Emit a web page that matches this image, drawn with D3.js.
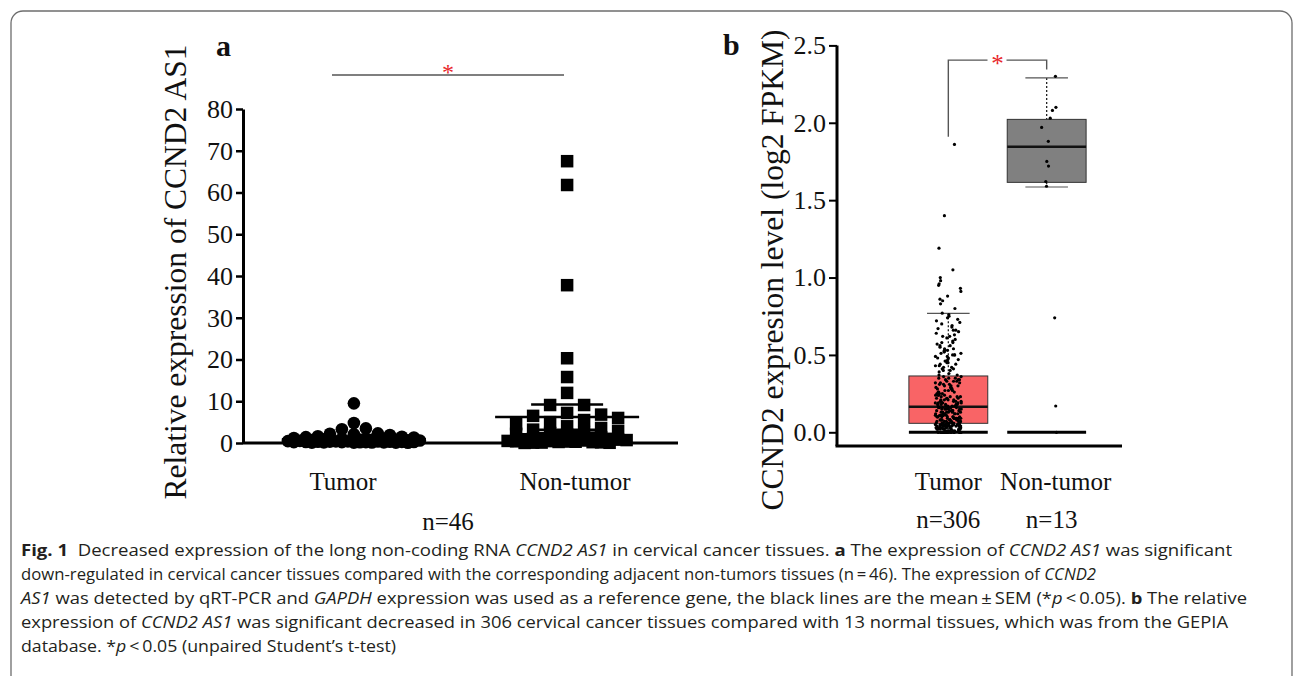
<!DOCTYPE html>
<html>
<head>
<meta charset="utf-8">
<script src="https://cdn.jsdelivr.net/npm/d3@7"></script>
<style>
    body {margin:0; background:#fff}
    svg {display:block}
    .serif {font-family:"Liberation Serif", "DejaVu Serif", serif; fill:#111}
    .cap {font-family:"Open Sans", "Noto Sans", sans-serif; font-size:16.5px; fill:#231f20; white-space:pre}
</style>
</head>
<body>
<svg id="fig" width="1293" height="676"></svg>
<script>
// ---------- data ----------
const groups= ["Tumor", "Non-tumor"]

// panel a: qRT-PCR, n=46 per group
const a_ticks= [0, 10, 20, 30, 40, 50, 60, 70, 80]
const a_tumor= [
    9.5, 4.8, 3.5, 3.3, 2.3, 2.2, 2.1, 1.9, 1.6, 1.5, 1.4, 1.3, 1.2, 1.1, 1.0, 0.95,
    0.9, 0.85, 0.8, 0.75, 0.7, 0.65, 0.6, 0.55, 0.5, 0.45, 0.4, 0.38, 0.35, 0.32,
    0.3, 0.3, 0.28, 0.25, 0.25, 0.22, 0.2, 0.2, 0.18, 0.15, 0.15, 0.12, 0.1, 0.1, 0.08, 0.05,
]
const a_normal= [
    67.5, 61.8, 37.8, 20.3, 15.8, 12.0, 9.1, 9.1, 7.2, 6.8, 6.5, 6.0, 5.5, 5.0, 4.5, 4.0,
    3.6, 3.2, 2.9, 2.6, 2.4, 2.2, 2.0, 1.8, 1.6, 1.4, 1.3, 1.2, 1.1, 1.0, 0.9, 0.8,
    0.7, 0.6, 0.5, 0.45, 0.4, 0.35, 0.3, 0.25, 0.2, 0.15, 0.1, 0.08, 0.05, 0.02,
]
const a_mean= [0.9, 6.2]
const a_sem= [0.3, 3.0]
const a_count= "n=46"

// panel b: GEPIA, log2 FPKM
const b_ticks= [0, 0.5, 1.0, 1.5, 2.0, 2.5]
const b_counts= ["n=306", "n=13"]
const b_q1= [0.058, 1.615]
const b_median= [0.165, 1.845]
const b_q3= [0.364, 2.022]
const b_lower= [0.0, 1.585]
const b_upper= [0.769, 2.29]
const b_tumor= [
    1.86, 1.40, 1.19, 1.05, 1.00, 0.98, 0.96, 0.95, 0.93, 0.91, 0.88, 0.86, 0.85, 0.83, 0.80,
    0.77, 0.76, 0.75, 0.74, 0.73, 0.72, 0.71, 0.70, 0.69, 0.68,
    0.67, 0.66, 0.66, 0.65, 0.64, 0.63, 0.62, 0.62, 0.61, 0.60,
    0.59, 0.58, 0.58, 0.57, 0.56, 0.56, 0.55, 0.54, 0.54, 0.53,
    0.53, 0.52, 0.52, 0.51, 0.51, 0.50, 0.50, 0.50, 0.49, 0.49,
    0.48, 0.48, 0.47, 0.47, 0.46, 0.46, 0.45, 0.45, 0.44, 0.44, 0.43,
    0.43, 0.42, 0.42, 0.41, 0.41, 0.40, 0.40, 0.39, 0.38, 0.37, 0.37,
    0.36, 0.36, 0.35, 0.35, 0.35, 0.34, 0.34, 0.34, 0.33, 0.33,
    0.33, 0.32, 0.32, 0.32, 0.31, 0.31, 0.31, 0.30, 0.30, 0.30,
    0.29, 0.29, 0.29, 0.28, 0.28, 0.28, 0.27, 0.27, 0.27, 0.26,
    0.26, 0.26, 0.25, 0.25, 0.25, 0.25, 0.24, 0.24, 0.24, 0.24,
    0.23, 0.23, 0.23, 0.23, 0.22, 0.22, 0.22, 0.22, 0.21, 0.21,
    0.21, 0.21, 0.20, 0.20, 0.20, 0.20, 0.20, 0.19, 0.19, 0.19,
    0.19, 0.19, 0.18, 0.18, 0.18, 0.18, 0.18, 0.17, 0.17, 0.17,
    0.17, 0.17, 0.17, 0.16, 0.16, 0.16,
    0.16, 0.16, 0.16, 0.15, 0.15, 0.15, 0.15, 0.15, 0.15, 0.14,
    0.14, 0.14, 0.14, 0.14, 0.14, 0.13, 0.13, 0.13, 0.13, 0.13,
    0.13, 0.12, 0.12, 0.12, 0.12, 0.12, 0.12, 0.12, 0.11, 0.11,
    0.11, 0.11, 0.11, 0.11, 0.11, 0.10, 0.10, 0.10, 0.10, 0.10,
    0.10, 0.10, 0.10, 0.09, 0.09, 0.09, 0.09, 0.09, 0.09, 0.09,
    0.09, 0.08, 0.08, 0.08, 0.08, 0.08, 0.08, 0.08, 0.08, 0.07,
    0.07, 0.07, 0.07, 0.07, 0.07, 0.07, 0.07, 0.06, 0.06, 0.06,
    0.06, 0.06, 0.06, 0.06, 0.06, 0.06, 0.06,
    0.05, 0.05, 0.05, 0.05, 0.05, 0.05, 0.05, 0.05, 0.05, 0.05, 0.05, 0.05, 0.05, 0.05, 0.05,
    0.04, 0.04, 0.04, 0.04, 0.04, 0.04, 0.04, 0.04, 0.04, 0.04, 0.04, 0.04, 0.04, 0.04, 0.04,
    0.03, 0.03, 0.03, 0.03, 0.03, 0.03, 0.03, 0.03, 0.03, 0.03,
    0.02, 0.02, 0.02, 0.02, 0.02, 0.02, 0.02, 0.02,
    0.01, 0.01, 0.01, 0.01, 0.01, 0.01, 0.01, 0.01,
    0.00, 0.00, 0.00, 0.00, 0.00, 0.00, 0.00, 0.00, 0.00, 0.00,
    0.00, 0.00, 0.00, 0.00, 0.00, 0.00, 0.00, 0.00, 0.00, 0.00,
]
const b_normal= [2.30, 2.10, 2.08, 2.03, 1.97, 1.88, 1.75, 1.72, 1.62, 1.59, 0.74, 0.17, 0.00]

// caption, one entry per line: [text, style]
const caption= [
    [["Fig. 1", "b"], ["  Decreased expression of the long non-coding RNA "], ["CCND2 AS1", "i"],
     [" in cervical cancer tissues. "], ["a", "b"], [" The expression of "], ["CCND2 AS1", "i"], [" was significant"]],
    [["down-regulated in cervical cancer tissues compared with the corresponding adjacent non-tumors tissues (n\u2009=\u200946). The expression of "], ["CCND2", "i"]],
    [["AS1", "i"], [" was detected by qRT-PCR and "], ["GAPDH", "i"],
     [" expression was used as a reference gene, the black lines are the mean\u2009\u00b1\u2009SEM (*"], ["p", "i"], ["\u2009<\u20090.05). "], ["b", "b"], [" The relative"]],
    [["expression of "], ["CCND2 AS1", "i"], [" was significant decreased in 306 cervical cancer tissues compared with 13 normal tissues, which was from the GEPIA"]],
    [["database. *"], ["p", "i"], ["\u2009<\u20090.05 (unpaired Student\u2019s t-test)"]],
]
const caption_widths= [1211, 1075, 1226, 1207, 375]

// ---------- helpers ----------
const svg= d3.select("#fig")
const RED= "#e8262a"

// prism-like swarm: biggest values first, each point takes the nearest free slot
// around the centre; once the row is full (max_half) it overlaps where it crowds least
function swarm(values, y, cx, {min_d=10, step=6.5, max_half=70, square=false}={}) {
    let placed= []
    let out= new Array(values.length)
    let order= d3.sort(d3.range(values.length), i => -values[i])
    let dist= (p, px, py) => square
        ? Math.max(Math.abs(p[0]-px), Math.abs(p[1]-py))
        : Math.hypot(p[0]-px, p[1]-py)
    let n_slots= Math.floor(max_half/step)
    for (let i of order) {
        let py= y(values[i])
        let best= null, best_d= -1
        for (let k= 0; k <= 2*n_slots; k++) {
            let off= k === 0 ? 0 : (k % 2 ? 1 : -1)*Math.ceil(k/2)*step
            let px= cx + off
            let d= d3.min(placed, p => dist(p, px, py)) ?? Infinity
            if (d >= min_d) { best= px; best_d= d; break }
            if (d > best_d + 0.5) { best= px; best_d= d }
        }
        placed.push([best, py])
        out[i]= [best, py]
    }
    return out
}

// frame
svg.append("rect")
    .attr("x", 11).attr("y", 11).attr("width", 1281).attr("height", 800).attr("rx", 12)
    .attr("fill", "none").attr("stroke", "#6d6d6d").attr("stroke-width", 1.3)

// ---------- panel a ----------
const ya= d3.scaleLinear().domain([0, 80]).range([443, 109])
const xa= d3.scalePoint().domain(groups).range([243, 678]).padding(0.52)
const ga= svg.append("g")

ga.append("text").attr("class", "serif")
    .attr("x", 216).attr("y", 56).attr("font-size", 30).attr("font-weight", "bold").text("a")

let axa= ga.append("g").attr("transform", "translate(243,0)")
    .call(d3.axisLeft(ya).tickValues(a_ticks).tickSize(7).tickSizeOuter(0).tickPadding(3))
axa.select(".domain").attr("stroke-width", 3)
axa.selectAll(".tick line").attr("stroke-width", 2.5)
axa.selectAll(".tick text").attr("class", "serif").attr("font-size", 26).attr("fill", "#111")

ga.append("line")
    .attr("x1", 243).attr("x2", 678).attr("y1", ya(0)).attr("y2", ya(0))
    .attr("stroke", "#000").attr("stroke-width", 3)

ga.append("text").attr("class", "serif")
    .attr("transform", "translate(186,272) rotate(-90)")
    .attr("text-anchor", "middle").attr("font-size", 31.5)
    .text("Relative expression of CCND2 AS1")

// tumor circles
let pts_t= swarm(a_tumor, ya, xa("Tumor"), {min_d:11, step:6, max_half:66})
ga.append("g").selectAll("circle").data(pts_t).join("circle")
    .attr("cx", d => d[0]).attr("cy", d => d[1]).attr("r", 6.3).attr("fill", "#000")

// non-tumor squares
let side= 12.5
let pts_n= swarm(a_normal, ya, xa("Non-tumor"), {min_d:14, step:8.5, max_half:64, square:true})
ga.append("g").selectAll("rect").data(pts_n).join("rect")
    .attr("x", d => d[0]-side/2).attr("y", d => d[1]-side/2)
    .attr("width", side).attr("height", side).attr("fill", "#000")

// mean +- sem
groups.forEach((g, i) => {
    let cx= xa(g)
    ga.append("line").attr("x1", cx-72).attr("x2", cx+72)
        .attr("y1", ya(a_mean[i])).attr("y2", ya(a_mean[i]))
        .attr("stroke", "#000").attr("stroke-width", 2.5)
    for (let v of [a_mean[i]-a_sem[i], a_mean[i]+a_sem[i]]) {
        ga.append("line").attr("x1", cx-36).attr("x2", cx+36)
            .attr("y1", ya(v)).attr("y2", ya(v))
            .attr("stroke", "#000").attr("stroke-width", 2.5)
    }
    ga.append("text").attr("class", "serif")
        .attr("x", xa.range()[0] + (i ? 332 : 100)).attr("y", 490)
        .attr("text-anchor", "middle").attr("font-size", 25).text(g)
})
ga.append("text").attr("class", "serif")
    .attr("x", 448).attr("y", 530).attr("text-anchor", "middle").attr("font-size", 25).text(a_count)

// significance
ga.append("line").attr("x1", 332).attr("x2", 564).attr("y1", 75).attr("y2", 75)
    .attr("stroke", "#555").attr("stroke-width", 1.6)
ga.append("text").attr("class", "serif").style("fill", RED)
    .attr("x", 448).attr("y", 80).attr("text-anchor", "middle").attr("font-size", 24).text("*")

// ---------- panel b ----------
const yb= d3.scaleLinear().domain([0, 2.5]).range([432.3, 45.4])
const xb= d3.scaleBand().domain(groups).range([837, 1158]).paddingInner(0.198).paddingOuter(0.731)
const gb= svg.append("g")
const bw= xb.bandwidth()

gb.append("text").attr("class", "serif")
    .attr("x", 723).attr("y", 55).attr("font-size", 30).attr("font-weight", "bold").text("b")

let axb= gb.append("g").attr("transform", "translate(837,0)")
    .call(d3.axisLeft(yb).tickValues(b_ticks).tickFormat(d3.format(".1f")).tickSize(8).tickSizeOuter(0).tickPadding(3))
axb.select(".domain").attr("d", `M0,${yb(2.5)}V446`).attr("stroke-width", 3)
axb.selectAll(".tick line").attr("stroke-width", 2)
axb.selectAll(".tick text").attr("class", "serif").attr("font-size", 26).attr("fill", "#111")

gb.append("line").attr("x1", 835.5).attr("x2", 1122).attr("y1", 446).attr("y2", 446)
    .attr("stroke", "#000").attr("stroke-width", 3)

gb.append("text").attr("class", "serif")
    .attr("transform", "translate(783,270) rotate(-90)")
    .attr("text-anchor", "middle").attr("font-size", 31.5)
    .text("CCND2 expresion level (log2 FPKM)")

const fills= ["#f96466", "#808080"]
const jit= d3.randomUniform.source(d3.randomLcg(0.42))(-1, 1)
groups.forEach((g, i) => {
    let x0= xb(g), cx= x0 + bw/2
    // whiskers (dotted) and caps
    gb.append("line").attr("x1", cx).attr("x2", cx)
        .attr("y1", yb(b_upper[i])).attr("y2", yb(b_q3[i]))
        .attr("stroke", "#222").attr("stroke-width", 1.3).attr("stroke-dasharray", "2,2")
    gb.append("line").attr("x1", cx).attr("x2", cx)
        .attr("y1", yb(b_q1[i])).attr("y2", yb(b_lower[i]))
        .attr("stroke", "#222").attr("stroke-width", 1.3).attr("stroke-dasharray", "2,2")
    for (let v of [b_upper[i], b_lower[i]]) {
        gb.append("line").attr("x1", cx-bw*0.27).attr("x2", cx+bw*0.27)
            .attr("y1", yb(v)).attr("y2", yb(v)).attr("stroke", "#555").attr("stroke-width", 1.2)
    }
    // box
    gb.append("rect").attr("x", x0).attr("width", bw)
        .attr("y", yb(b_q3[i])).attr("height", yb(b_q1[i]) - yb(b_q3[i]))
        .attr("fill", fills[i]).attr("stroke", "#333").attr("stroke-width", 1)
    gb.append("line").attr("x1", x0).attr("x2", x0+bw)
        .attr("y1", yb(b_median[i])).attr("y2", yb(b_median[i]))
        .attr("stroke", "#111").attr("stroke-width", 2.5)
    // zero line
    gb.append("line").attr("x1", x0).attr("x2", x0+bw)
        .attr("y1", yb(0)).attr("y2", yb(0))
        .attr("stroke", "#000").attr("stroke-width", 3)
    // jittered points
    let vals= i === 0 ? b_tumor : b_normal
    let spread= i === 0 ? 13 : 10
    gb.append("g").selectAll("circle").data(vals).join("circle")
        .attr("cx", () => cx + jit()*spread).attr("cy", d => yb(d))
        .attr("r", 1.6).attr("fill", "#000")
    // labels
    gb.append("text").attr("class", "serif")
        .attr("x", cx + (i ? 9 : 0)).attr("y", 490).attr("text-anchor", "middle").attr("font-size", 25).text(g)
    gb.append("text").attr("class", "serif")
        .attr("x", cx + (i ? 5 : 0)).attr("y", 528).attr("text-anchor", "middle").attr("font-size", 25).text(b_counts[i])
})

// significance bracket
let lx= xb("Tumor") + bw/2, rx= xb("Non-tumor") + bw/2
gb.append("path")
    .attr("d", `M${lx},${yb(1.91)}V${yb(2.405)}H${(lx+rx)/2-10}M${(lx+rx)/2+9},${yb(2.405)}H${rx}V${yb(2.345)}`)
    .attr("fill", "none").attr("stroke", "#555").attr("stroke-width", 1.4)
gb.append("text").attr("class", "serif").style("fill", RED)
    .attr("x", (lx+rx)/2).attr("y", yb(2.405)+12).attr("text-anchor", "middle").attr("font-size", 25).text("*")

// ---------- caption ----------
caption.forEach((line, i) => {
    let t= svg.append("text").attr("class", "cap")
        .attr("x", 21).attr("y", 556 + i*24)
        .attr("textLength", caption_widths[i]).attr("lengthAdjust", "spacingAndGlyphs")
    for (let [s, st] of line) {
        t.append("tspan").text(s)
            .attr("font-weight", st === "b" ? "bold" : null)
            .attr("font-style", st === "i" ? "italic" : null)
    }
})
</script>
</body>
</html>
